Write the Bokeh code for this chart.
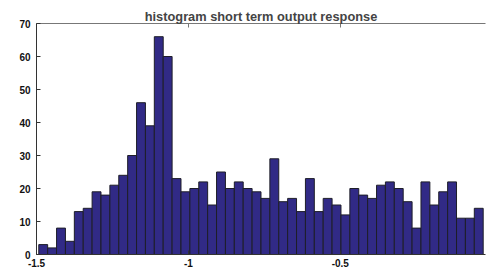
import numpy as np
from bokeh.plotting import figure
from bokeh.models import LinearAxis, FixedTicker, Range1d, ColumnDataSource, CustomJSTickFormatter
from bokeh.embed import file_html
from bokeh.resources import INLINE

# histogram data (50 bins)
bin_start = -1.4925
bin_end = -0.0296
counts = [3, 2, 8, 4, 13, 14, 19, 18, 21, 24,
          30, 46, 39, 66, 60, 23, 19, 20, 22, 15,
          25, 20, 22, 20, 19, 17, 29, 16, 17, 13,
          23, 13, 17, 15, 12, 20, 18, 17, 21, 22,
          20, 16, 8, 22, 15, 19, 22, 11, 11, 14]
x_ticks = [-1.5, -1.0, -0.5]
x_tick_labels = {-1.5: "-1.5", -1.0: "-1", -0.5: "-0.5"}
y_ticks = [0, 10, 20, 30, 40, 50, 60, 70]
title_text = "histogram short term output response"

edges = np.linspace(bin_start, bin_end, len(counts) + 1)
src = ColumnDataSource(dict(left=edges[:-1], right=edges[1:],
                            top=counts, bottom=[0] * len(counts)))

p = figure(width=487, height=269, output_backend="svg", toolbar_location=None,
           x_range=Range1d(-1.5, -0.022), y_range=Range1d(0, 70),
           min_border_left=36, min_border_right=2, min_border_top=23,
           min_border_bottom=15, x_axis_location="below")
p.title.text = title_text
p.title.align = "center"
p.title.text_font = "Liberation Sans"
p.title.text_font_style = "bold"
p.title.text_font_size = "12.8px"
p.title.standoff = 0
p.title.offset = 0

p.quad(left="left", right="right", top="top", bottom="bottom", source=src,
       fill_color="#312a86", line_color="#1e1e28", line_width=1)

p.grid.visible = False
p.outline_line_color = None
p.background_fill_color = "white"

for ax in p.xaxis + p.yaxis:
    ax.major_label_text_font = "Liberation Sans"
    ax.major_label_text_font_style = "bold"
    ax.major_label_text_font_size = "10px"
    ax.major_label_text_color = "#111111"
    ax.major_tick_in = 4
    ax.major_tick_out = 0
    ax.minor_tick_line_color = None
    ax.axis_line_color = "#333333"
    ax.major_tick_line_color = "#333333"

p.xaxis.ticker = FixedTicker(ticks=x_ticks)
p.xaxis.major_label_overrides = x_tick_labels
p.xaxis.major_label_standoff = 4
p.yaxis.ticker = FixedTicker(ticks=y_ticks)
p.yaxis.major_label_standoff = 6

top_ax = LinearAxis(ticker=FixedTicker(ticks=x_ticks),
                    formatter=CustomJSTickFormatter(code="return ''"))
top_ax.major_label_standoff = 0
top_ax.major_tick_in = 4
top_ax.major_tick_out = 0
top_ax.minor_tick_line_color = None
top_ax.axis_line_color = "#777777"
top_ax.major_tick_line_color = "#777777"
p.add_layout(top_ax, "above")

open("out.html", "w").write(file_html(p, INLINE))
